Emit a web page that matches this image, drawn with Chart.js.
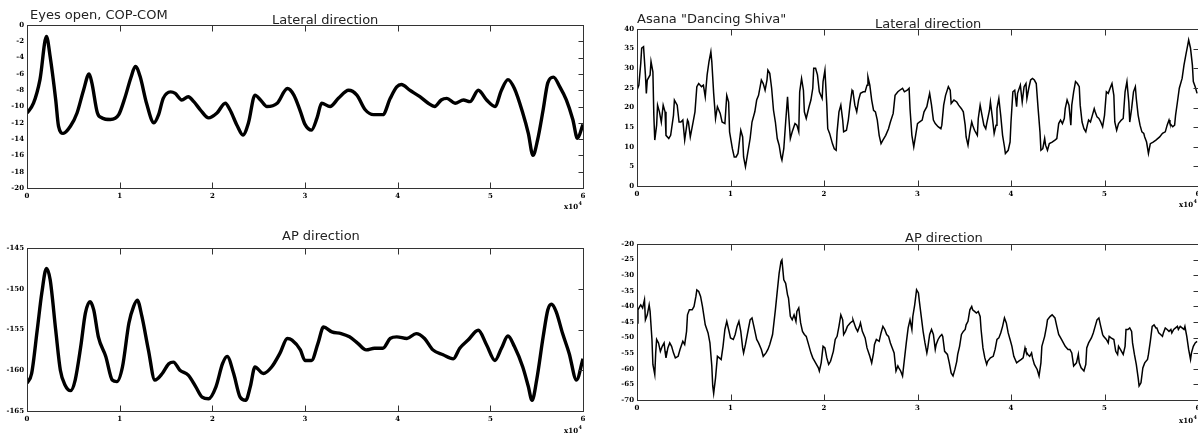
<!DOCTYPE html>
<html>
<head>
<meta charset="utf-8">
<script src="https://cdn.jsdelivr.net/npm/chart.js@4.4.1/dist/chart.umd.min.js"></script>
<style>
html, body { margin:0; padding:0; background:#fff; width:1198px; height:435px; overflow:hidden; position:relative; }
canvas { position:absolute; }
.ttl { position:absolute; font:13px "DejaVu Sans", sans-serif; color:#222; white-space:nowrap; line-height:13px; }
</style>
</head>
<body>
<canvas id="openLat" style="left:0;top:0" width="600" height="217"></canvas>
<canvas id="openAp" style="left:0;top:217px" width="600" height="218"></canvas>
<canvas id="shivaLat" style="left:610px;top:0" width="610" height="217"></canvas>
<canvas id="shivaAp" style="left:610px;top:217px" width="610" height="218"></canvas>

<div class="ttl" style="left:30px;top:8px">Eyes open, COP-COM</div>
<div class="ttl" style="left:272px;top:13px">Lateral direction</div>
<div class="ttl" style="left:282px;top:229px">AP direction</div>
<div class="ttl" style="left:637px;top:12px">Asana "Dancing Shiva"</div>
<div class="ttl" style="left:875px;top:17px">Lateral direction</div>
<div class="ttl" style="left:905px;top:231px">AP direction</div>

<script>
// time axis, x10^4 samples
const xRange = [0, 6, 1];
// y ranges: min, max, step
const openLatRange = [-20, 0, 2];
const openApRange = [-165, -145, 5];
const shivaLatRange = [0, 40, 5];
const shivaApRange = [-70, -20, 5];

// eyes open, lateral [t, value]
const openLateral = [
  [0,-10.8],[0.07,-9.6],[0.14,-6.7],[0.21,-1.4],[0.25,-3.9],[0.31,-9.2],[0.34,-12.4],[0.39,-13.3],
  [0.47,-12.4],[0.54,-10.8],[0.61,-8.0],[0.67,-6.0],[0.70,-7.1],[0.76,-10.8],[0.81,-11.4],[0.90,-11.6],
  [0.99,-11.0],[1.06,-8.8],[1.12,-6.5],[1.17,-5.1],[1.22,-6.3],[1.29,-9.6],[1.37,-12.0],[1.42,-11.0],
  [1.47,-9.0],[1.55,-8.2],[1.60,-8.4],[1.67,-9.2],[1.74,-8.8],[1.80,-9.4],[1.87,-10.4],[1.96,-11.4],
  [2.05,-10.8],[2.14,-9.6],[2.19,-10.4],[2.27,-12.4],[2.33,-13.5],[2.39,-12.0],[2.46,-8.6],[2.52,-9.2],
  [2.59,-10.0],[2.70,-9.6],[2.81,-7.8],[2.88,-8.6],[2.95,-10.6],[3.0,-12.2],[3.07,-12.9],[3.13,-11.4],
  [3.18,-9.6],[3.27,-10.0],[3.36,-9.0],[3.47,-8.0],[3.56,-8.6],[3.65,-10.4],[3.74,-11.0],[3.84,-11.0],
  [3.92,-9.0],[3.99,-7.6],[4.04,-7.3],[4.13,-8.0],[4.24,-8.8],[4.33,-9.6],[4.40,-10.0],[4.47,-9.2],
  [4.53,-9.0],[4.62,-9.6],[4.71,-9.2],[4.78,-9.4],[4.87,-8.0],[4.96,-9.2],[5.05,-10.0],[5.12,-8.0],
  [5.19,-6.7],[5.26,-7.8],[5.35,-10.8],[5.41,-13.3],[5.46,-16.0],[5.51,-14.1],[5.57,-10.4],[5.62,-7.1],
  [5.68,-6.4],[5.75,-7.6],[5.82,-9.2],[5.89,-11.6],[5.94,-13.9],[6.0,-12.2]
];

// eyes open, AP
const openAP = [
  [0,-161.6],[0.05,-160.4],[0.11,-155.1],[0.16,-150.5],[0.21,-147.5],[0.25,-148.9],[0.31,-155.1],[0.36,-160.0],
  [0.41,-161.8],[0.47,-162.5],[0.52,-161.2],[0.58,-157.1],[0.63,-153.0],[0.68,-151.6],[0.72,-152.6],[0.77,-155.9],
  [0.85,-158.3],[0.92,-161.2],[0.97,-161.4],[1.03,-159.6],[1.10,-154.2],[1.15,-152.2],[1.19,-151.4],[1.24,-153.4],
  [1.31,-157.5],[1.38,-161.2],[1.46,-160.4],[1.53,-159.2],[1.58,-159.0],[1.65,-160.0],[1.74,-160.6],[1.82,-162.0],
  [1.89,-163.3],[1.96,-163.5],[2.04,-162.0],[2.11,-159.2],[2.16,-158.3],[2.23,-160.4],[2.30,-163.3],[2.36,-163.7],
  [2.41,-162.0],[2.46,-159.6],[2.55,-160.4],[2.64,-159.6],[2.73,-157.9],[2.81,-156.1],[2.86,-156.3],[2.95,-157.5],
  [3.0,-158.8],[3.07,-158.8],[3.14,-156.7],[3.20,-154.7],[3.29,-155.3],[3.39,-155.5],[3.48,-155.9],[3.57,-156.7],
  [3.66,-157.5],[3.75,-157.3],[3.84,-157.3],[3.92,-156.1],[3.99,-155.9],[4.10,-156.1],[4.20,-155.5],[4.29,-156.1],
  [4.38,-157.5],[4.49,-158.1],[4.60,-158.6],[4.67,-157.3],[4.76,-156.3],[4.87,-155.1],[4.96,-156.9],[5.05,-158.8],
  [5.12,-157.3],[5.19,-155.8],[5.26,-157.1],[5.35,-159.6],[5.41,-162.0],[5.45,-163.7],[5.50,-161.2],[5.57,-155.9],
  [5.62,-152.6],[5.66,-151.9],[5.71,-152.8],[5.78,-155.5],[5.85,-157.9],[5.93,-161.2],[6.0,-158.6]
];

// asana, lateral
const shivaLateral = [
  [0,24.4],[0.02,25.7],[0.04,31.2],[0.05,35.1],[0.07,35.5],[0.09,28.3],[0.10,23.6],[0.11,27.0],[0.14,28.3],
  [0.15,31.7],[0.17,29.1],[0.18,18.0],[0.19,11.7],[0.21,15.5],[0.22,20.6],[0.24,18.9],[0.26,16.3],[0.28,20.6],
  [0.30,18.9],[0.31,12.9],[0.34,12.1],[0.36,12.9],[0.39,18.0],[0.40,21.9],[0.43,20.6],[0.45,16.3],[0.47,16.3],
  [0.49,16.8],[0.51,11.7],[0.54,16.8],[0.55,16.3],[0.57,12.5],[0.60,16.3],[0.62,18.9],[0.64,25.3],[0.66,26.1],
  [0.69,25.3],[0.71,25.7],[0.73,22.7],[0.75,28.3],[0.77,31.7],[0.79,34.2],[0.80,31.7],[0.82,23.6],[0.84,17.2],
  [0.86,20.2],[0.89,18.5],[0.91,16.3],[0.94,15.9],[0.96,23.1],[0.98,21.4],[0.99,13.8],[1.02,9.5],[1.04,7.4],
  [1.06,7.4],[1.08,8.3],[1.11,14.2],[1.13,12.5],[1.14,7.4],[1.16,4.9],[1.18,7.8],[1.21,12.1],[1.23,16.3],
  [1.26,18.9],[1.28,21.9],[1.30,23.1],[1.33,27.0],[1.35,26.1],[1.37,24.4],[1.39,27.0],[1.40,29.5],[1.42,28.7],
  [1.44,24.9],[1.46,19.3],[1.48,16.3],[1.50,12.1],[1.52,10.4],[1.54,7.4],[1.55,6.6],[1.57,9.5],[1.59,16.3],
  [1.61,22.7],[1.62,18.9],[1.64,12.1],[1.66,13.8],[1.69,15.9],[1.71,15.5],[1.73,13.8],[1.74,24.0],[1.76,27.4],
  [1.78,24.4],[1.79,18.9],[1.81,17.2],[1.84,20.2],[1.86,21.9],[1.88,24.9],[1.89,30.0],[1.91,30.0],[1.93,28.3],
  [1.95,24.0],[1.98,22.3],[1.99,26.6],[2.01,29.5],[2.03,20.6],[2.04,14.6],[2.06,13.4],[2.09,10.8],[2.11,9.5],
  [2.13,9.1],[2.14,13.8],[2.16,18.9],[2.18,20.6],[2.20,16.8],[2.21,13.8],[2.24,14.2],[2.26,16.8],[2.28,21.0],
  [2.30,24.4],[2.31,24.0],[2.33,20.6],[2.35,18.9],[2.37,21.9],[2.39,23.6],[2.42,24.0],[2.44,24.0],[2.46,25.7],
  [2.47,27.8],[2.49,25.7],[2.51,21.9],[2.53,19.3],[2.55,18.9],[2.57,16.8],[2.59,12.9],[2.61,10.8],[2.63,11.7],
  [2.66,12.9],[2.69,14.6],[2.71,16.3],[2.74,18.5],[2.76,23.1],[2.79,24.0],[2.81,24.4],[2.84,24.9],[2.86,24.0],
  [2.89,24.4],[2.91,24.9],[2.92,19.7],[2.94,12.9],[2.96,10.0],[2.98,12.9],[3.00,15.9],[3.02,16.3],[3.05,16.8],
  [3.07,18.9],[3.10,20.2],[3.11,21.4],[3.13,23.6],[3.15,20.6],[3.17,16.8],[3.19,15.9],[3.22,15.1],[3.25,14.6],
  [3.26,15.5],[3.28,20.6],[3.30,23.1],[3.33,25.3],[3.35,24.4],[3.36,21.0],[3.39,21.9],[3.42,21.4],[3.44,20.6],
  [3.47,19.7],[3.49,18.9],[3.51,15.5],[3.52,12.5],[3.54,10.4],[3.56,13.8],[3.58,16.3],[3.59,15.5],[3.61,14.2],
  [3.64,12.9],[3.65,17.2],[3.67,20.6],[3.69,18.0],[3.71,15.5],[3.73,14.6],[3.74,15.9],[3.77,19.3],[3.78,21.4],
  [3.80,17.6],[3.82,13.4],[3.84,15.5],[3.85,19.7],[3.87,22.3],[3.89,18.0],[3.91,12.9],[3.93,10.0],[3.94,8.3],
  [3.97,9.1],[3.99,11.2],[4.00,16.3],[4.02,24.0],[4.04,24.4],[4.06,20.2],[4.07,23.6],[4.10,25.7],[4.12,21.4],
  [4.14,25.3],[4.16,26.1],[4.17,22.3],[4.19,24.9],[4.21,27.0],[4.23,27.4],[4.25,27.0],[4.27,26.1],[4.29,19.7],
  [4.31,13.8],[4.32,9.1],[4.34,9.5],[4.36,12.1],[4.37,10.4],[4.39,9.1],[4.41,10.8],[4.44,11.2],[4.47,11.7],
  [4.49,12.1],[4.51,15.9],[4.53,16.8],[4.55,15.9],[4.57,17.2],[4.58,19.7],[4.60,21.9],[4.62,20.6],[4.64,15.5],
  [4.65,20.6],[4.67,24.0],[4.69,26.6],[4.71,26.1],[4.73,25.3],[4.74,20.6],[4.76,16.3],[4.78,14.6],[4.80,13.8],
  [4.82,15.9],[4.83,16.8],[4.85,16.3],[4.87,18.0],[4.89,19.7],[4.90,18.9],[4.92,17.6],[4.94,17.2],[4.96,16.3],
  [4.98,15.1],[5.00,18.0],[5.02,24.0],[5.04,23.6],[5.06,24.9],[5.08,26.1],[5.10,23.1],[5.11,16.3],[5.13,14.2],
  [5.15,15.9],[5.18,16.8],[5.20,17.2],[5.22,24.0],[5.24,26.6],[5.26,21.4],[5.27,16.3],[5.29,19.7],[5.31,24.0],
  [5.33,25.3],[5.34,22.3],[5.36,18.0],[5.38,15.5],[5.40,13.8],[5.42,13.4],[5.43,12.5],[5.45,11.2],[5.47,8.3],
  [5.49,10.8],[5.52,11.2],[5.55,11.7],[5.59,12.5],[5.62,13.4],[5.65,13.8],[5.67,15.5],[5.69,16.8],[5.70,15.9],
  [5.73,15.1],[5.75,15.5],[5.76,18.0],[5.78,21.4],[5.80,24.9],[5.83,27.4],[5.85,30.8],[5.87,33.4],[5.89,35.9],
  [5.90,37.2],[5.92,35.1],[5.94,30.8],[5.95,26.6],[5.97,25.3],[5.99,23.6]
];

// asana, AP
const shivaAP = [
  [0,-45.3],[0.01,-41.1],[0.03,-40.0],[0.04,-39.5],[0.06,-40.5],[0.08,-37.9],[0.09,-44.3],[0.11,-42.7],[0.13,-39.5],
  [0.14,-41.6],[0.16,-50.6],[0.17,-58.6],[0.19,-61.8],[0.20,-54.9],[0.21,-50.6],[0.23,-51.7],[0.25,-54.4],[0.27,-52.8],
  [0.29,-51.7],[0.30,-54.4],[0.31,-56.5],[0.33,-53.3],[0.35,-51.7],[0.37,-52.8],[0.39,-54.9],[0.41,-56.5],[0.44,-56.0],
  [0.46,-53.8],[0.49,-51.2],[0.51,-52.2],[0.53,-48.0],[0.54,-42.7],[0.56,-41.1],[0.59,-41.1],[0.61,-40.0],[0.63,-36.8],
  [0.64,-34.7],[0.66,-35.2],[0.68,-36.8],[0.70,-40.0],[0.73,-45.9],[0.76,-48.5],[0.78,-51.7],[0.80,-59.1],[0.81,-65.5],
  [0.82,-67.9],[0.84,-62.9],[0.86,-56.0],[0.88,-56.5],[0.90,-57.0],[0.92,-52.8],[0.94,-47.4],[0.96,-44.8],[0.98,-47.4],
  [1.00,-50.1],[1.03,-50.6],[1.05,-49.0],[1.07,-46.4],[1.09,-44.8],[1.11,-48.0],[1.13,-53.3],[1.14,-54.9],[1.16,-52.2],
  [1.19,-47.4],[1.21,-44.3],[1.23,-43.7],[1.25,-46.4],[1.28,-50.6],[1.30,-51.7],[1.33,-53.8],[1.35,-56.0],[1.38,-54.9],
  [1.40,-53.8],[1.42,-52.2],[1.45,-49.0],[1.46,-46.4],[1.48,-41.1],[1.50,-35.2],[1.52,-29.4],[1.54,-25.6],[1.55,-25.1],
  [1.57,-31.5],[1.59,-32.6],[1.61,-36.3],[1.62,-37.3],[1.64,-43.2],[1.66,-44.3],[1.68,-42.7],[1.70,-44.8],[1.71,-41.6],
  [1.73,-40.5],[1.75,-45.3],[1.77,-48.0],[1.79,-49.0],[1.81,-49.6],[1.83,-51.7],[1.86,-54.9],[1.88,-56.5],[1.91,-58.1],
  [1.94,-59.7],[1.95,-60.7],[1.97,-58.1],[1.99,-52.8],[2.01,-53.3],[2.03,-56.5],[2.05,-58.6],[2.07,-57.6],[2.10,-54.4],
  [2.12,-50.6],[2.14,-49.6],[2.16,-46.4],[2.18,-42.7],[2.20,-44.3],[2.21,-49.0],[2.23,-48.0],[2.25,-46.4],[2.28,-45.3],
  [2.30,-44.8],[2.31,-44.3],[2.34,-46.9],[2.36,-48.0],[2.38,-46.4],[2.39,-45.3],[2.41,-48.0],[2.44,-50.1],[2.46,-53.3],
  [2.49,-56.0],[2.51,-58.1],[2.53,-54.9],[2.54,-52.2],[2.56,-50.6],[2.59,-51.2],[2.61,-48.5],[2.63,-46.4],[2.65,-47.4],
  [2.67,-49.0],[2.69,-49.6],[2.71,-51.7],[2.73,-53.3],[2.75,-54.9],[2.77,-60.7],[2.79,-59.1],[2.80,-59.7],[2.82,-60.7],
  [2.84,-62.3],[2.86,-57.0],[2.88,-51.7],[2.90,-46.9],[2.92,-44.3],[2.94,-47.4],[2.95,-43.2],[2.97,-39.5],[2.99,-34.7],
  [3.01,-35.7],[3.02,-38.4],[3.04,-43.2],[3.06,-48.0],[3.08,-51.7],[3.10,-54.9],[3.11,-53.3],[3.13,-49.0],[3.15,-47.4],
  [3.17,-49.0],[3.19,-53.8],[3.20,-52.2],[3.22,-50.6],[3.24,-49.6],[3.26,-49.0],[3.27,-49.6],[3.29,-54.4],[3.32,-55.4],
  [3.34,-58.1],[3.36,-61.3],[3.38,-62.3],[3.40,-60.2],[3.42,-57.6],[3.43,-55.4],[3.45,-52.8],[3.47,-49.0],[3.49,-48.0],
  [3.51,-47.4],[3.52,-45.9],[3.54,-44.8],[3.56,-41.1],[3.58,-40.0],[3.59,-41.1],[3.61,-41.6],[3.63,-42.1],[3.65,-41.6],
  [3.67,-43.2],[3.68,-47.4],[3.70,-53.3],[3.72,-56.5],[3.74,-58.6],[3.75,-57.6],[3.78,-56.5],[3.81,-56.0],[3.83,-53.8],
  [3.85,-50.6],[3.87,-50.1],[3.89,-48.5],[3.91,-46.4],[3.93,-43.7],[3.95,-45.3],[3.97,-48.5],[3.99,-50.6],[4.01,-52.8],
  [4.03,-56.0],[4.06,-58.1],[4.08,-57.6],[4.11,-57.0],[4.13,-56.5],[4.15,-53.3],[4.16,-54.4],[4.18,-55.4],[4.20,-56.0],
  [4.22,-54.9],[4.23,-56.5],[4.25,-58.6],[4.28,-60.2],[4.30,-62.3],[4.32,-58.1],[4.33,-52.8],[4.36,-49.6],[4.38,-46.4],
  [4.39,-44.3],[4.42,-43.2],[4.44,-42.7],[4.47,-43.7],[4.49,-46.4],[4.51,-49.0],[4.54,-50.6],[4.56,-51.7],[4.58,-52.8],
  [4.61,-53.8],[4.63,-53.8],[4.65,-54.9],[4.67,-59.1],[4.70,-58.1],[4.72,-55.4],[4.73,-58.1],[4.75,-59.7],[4.78,-60.7],
  [4.80,-58.6],[4.81,-53.3],[4.83,-51.7],[4.86,-50.1],[4.88,-48.5],[4.90,-46.4],[4.92,-44.3],[4.94,-43.7],[4.96,-46.4],
  [4.98,-49.0],[4.99,-49.6],[5.02,-50.6],[5.04,-51.7],[5.05,-49.6],[5.07,-50.1],[5.10,-50.6],[5.12,-54.4],[5.14,-55.4],
  [5.15,-52.8],[5.17,-53.8],[5.20,-55.4],[5.22,-52.8],[5.23,-47.4],[5.25,-47.4],[5.27,-46.9],[5.29,-48.0],[5.30,-51.7],
  [5.32,-55.4],[5.34,-58.6],[5.36,-62.9],[5.37,-65.5],[5.39,-64.5],[5.41,-59.7],[5.43,-58.1],[5.46,-57.0],[5.47,-55.4],
  [5.49,-51.2],[5.51,-46.4],[5.53,-45.9],[5.55,-46.9],[5.56,-46.9],[5.58,-48.5],[5.60,-49.0],[5.62,-49.6],[5.63,-48.5],
  [5.65,-46.9],[5.67,-47.4],[5.69,-48.0],[5.71,-47.4],[5.72,-48.5],[5.74,-47.4],[5.76,-46.9],[5.78,-46.4],[5.79,-47.4],
  [5.81,-46.4],[5.83,-46.9],[5.85,-47.4],[5.86,-46.4],[5.88,-49.6],[5.90,-53.8],[5.92,-57.0],[5.93,-54.9],[5.95,-52.8],
  [5.97,-51.7],[5.99,-51.2]
];

const tickFont = { family: 'DejaVu Serif', size: 7, weight: 'bold' };

// box round the plot, inward ticks, and the x10^4 note
const frame = {
  id: 'frame',
  afterDraw(chart, args, opts) {
    const { ctx, chartArea: a, scales: { x, y } } = chart;
    const L = Math.round(a.left) + 0.5, R = Math.round(a.right) + 0.5;
    const T = Math.round(a.top) + 0.5, B = Math.round(a.bottom) + 0.5;
    ctx.save();
    ctx.strokeStyle = '#333';
    ctx.lineWidth = 1;
    ctx.strokeRect(L, T, R - L, B - T);
    ctx.beginPath();
    x.ticks.forEach(t => {
      const px = Math.round(x.getPixelForValue(t.value)) + 0.5;
      ctx.moveTo(px, T); ctx.lineTo(px, T + 6);
      ctx.moveTo(px, B); ctx.lineTo(px, B - 6);
    });
    y.ticks.forEach(t => {
      const py = Math.round(y.getPixelForValue(t.value)) + 0.5;
      ctx.moveTo(R, py); ctx.lineTo(R - 5, py);
    });
    ctx.stroke();
    ctx.fillStyle = '#000';
    ctx.textBaseline = 'middle';
    ctx.textAlign = 'right';
    ctx.font = 'bold 5px "DejaVu Serif"';
    ctx.fillText('4', a.right - 1, a.bottom + opts.noteDy - 3);
    ctx.font = 'bold 7px "DejaVu Serif"';
    ctx.fillText('x10', a.right - 5, a.bottom + opts.noteDy);
    ctx.restore();
  }
};

function panel(id, series, range, padTop, padRight, xHeight, lineWidth, smooth, noteDy) {
  new Chart(document.getElementById(id), {
    type: 'line',
    data: {
      datasets: [{
        data: series.map(p => ({ x: p[0], y: p[1] })),
        borderColor: '#000',
        borderWidth: lineWidth,
        pointRadius: 0,
        cubicInterpolationMode: smooth ? 'monotone' : 'default',
        tension: 0,
        fill: false
      }]
    },
    options: {
      responsive: false,
      animation: false,
      events: [],
      layout: { padding: { top: padTop, right: padRight, left: 0, bottom: 0 } },
      plugins: { legend: { display: false }, tooltip: { enabled: false }, frame: { noteDy: noteDy } },
      scales: {
        x: {
          type: 'linear', min: xRange[0], max: xRange[1],
          grid: { display: false, drawTicks: false }, border: { display: false },
          ticks: { stepSize: xRange[2], padding: 4, color: '#000', font: tickFont, maxRotation: 0, autoSkip: false },
          afterFit: s => { s.height = xHeight; }
        },
        y: {
          type: 'linear', min: range[0], max: range[1],
          grid: { display: false, drawTicks: false }, border: { display: false },
          ticks: { stepSize: range[2], padding: 3, color: '#000', font: tickFont, autoSkip: false },
          afterFit: s => { s.width = 27; }
        }
      }
    },
    plugins: [frame]
  });
}

panel('openLat', openLateral, openLatRange, 25, 17, 29, 3.4, true, 19);
panel('openAp', openAP, openApRange, 31, 17, 24, 3.4, true, 20);
panel('shivaLat', shivaLateral, shivaLatRange, 29, 22, 31, 1.5, false, 19);
panel('shivaAp', shivaAP, shivaApRange, 27, 22, 35, 1.5, false, 21);
</script>
</body>
</html>
